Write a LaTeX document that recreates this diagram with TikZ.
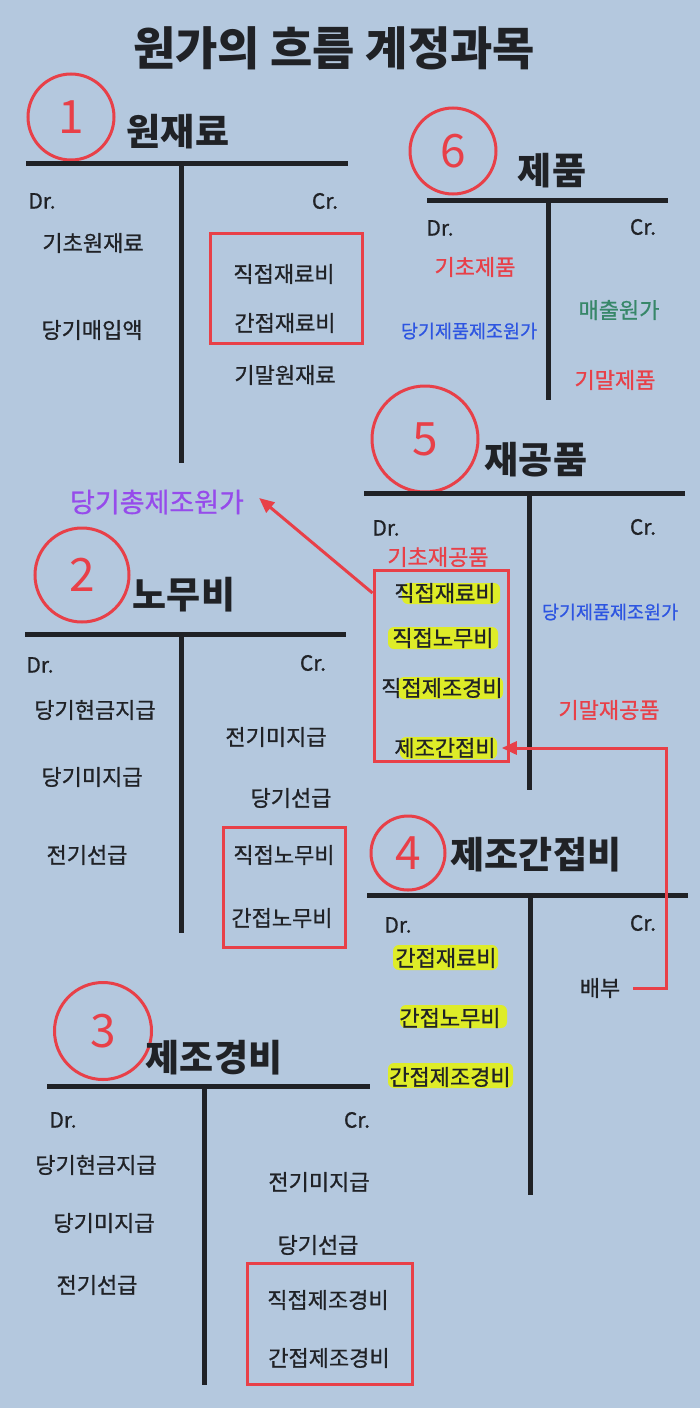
\documentclass[tikz,border=0pt]{standalone}
\usepackage{fontspec}
\setmainfont{Noto Sans CJK KR}
\newfontfamily\medfont{Noto Sans CJK KR}[FakeBold=0.8]
\usetikzlibrary{arrows.meta}

\definecolor{bgblue}{RGB}{180,200,222}
\definecolor{penred}{RGB}{232,64,72}
\definecolor{inkblack}{RGB}{32,34,38}
\definecolor{costblue}{RGB}{45,85,225}
\definecolor{salesgreen}{RGB}{55,135,105}
\definecolor{totalpurple}{RGB}{150,75,235}
\definecolor{marker}{RGB}{222,236,40}

\begin{document}
\begin{tikzpicture}[x=1pt, y=-1pt,
    every node/.style={inner sep=0pt, text=inkblack},
    entry/.style={font=\medfont\fontsize{22}{22}\selectfont},
    smallentry/.style={font=\medfont\fontsize{18.5}{18.5}\selectfont},
    drcr/.style={font=\medfont\fontsize{21}{21}\selectfont},
    acct/.style={font=\bfseries\fontsize{37}{37}\selectfont},
    tline/.style={line width=5pt, inkblack},
    numcirc/.style={draw=penred, line width=3pt, circle, minimum size=#1, text=penred, font=\fontsize{46}{46}\selectfont},
    numcirc/.default=86pt,
    redbox/.style={draw=penred, line width=3pt, rectangle},
    redarrow/.style={draw=penred, line width=3pt, -{Triangle[length=15pt,width=13pt]}},
]
    \useasboundingbox (0,0) rectangle (700,1408);
    \fill [bgblue] (0,0) rectangle (700,1408);
    % marker strokes under the highlighted items
    \foreach \xa/\ya/\xb/\yb in {402/583/500/604, 388/627/498/649, 398/677/503/699, 400/737/497/759,
                                 393/945/498/970, 400/1005/507/1028, 388/1063/513/1088} {
        \fill [marker, rounded corners=6pt] (\xa,\ya) rectangle (\xb,\yb);
    }

    \node[font=\bfseries\fontsize{46}{46}\selectfont] (title) at (334,48) {원가의 흐름 계정과목};

    % 1 원재료
    \node[numcirc] (c1) at (71,117) {1};
    \node[acct] (t1) at (178,132) {원재료};
    \draw [tline] (26,163) -- (348,163);
    \draw [tline] (181,163) -- (181,463);
    \node[drcr] (dr1) at (42,201) {Dr.};
    \node[drcr] (cr1) at (325,201) {Cr.};
    \node[entry] (a1) at (93,243) {기초원재료};
    \node[entry] (a2) at (92,330) {당기매입액};
    \node[entry] (a3) at (284,274) {직접재료비};
    \node[entry] (a4) at (285,323) {간접재료비};
    \node[entry] (a5) at (285,375) {기말원재료};
    \node[redbox, minimum width=152pt, minimum height=110pt] (box1) at (286,288) {};

    % 6 제품
    \node[numcirc] (c6) at (453,151) {6};
    \node[acct] (t6) at (552,171) {제품};
    \draw [tline] (427,200) -- (668,200);
    \draw [tline] (548,200) -- (548,400);
    \node[drcr] (dr6) at (440,228) {Dr.};
    \node[drcr] (cr6) at (643,227) {Cr.};
    \node[entry, text=penred] (f1) at (475,267) {기초제품};
    \node[smallentry, text=costblue] (f2) at (469,331) {당기제품제조원가};
    \node[entry, text=salesgreen] (f3) at (619,310) {매출원가};
    \node[entry, text=penred] (f4) at (615,380) {기말제품};

    % 5 재공품
    \node[numcirc=106pt] (c5) at (425,439) {5};
    \node[acct] (t5) at (536,460) {재공품};
    \draw [tline] (364,493) -- (685,493);
    \draw [tline] (529,493) -- (529,790);
    \node[drcr] (dr5) at (386,528) {Dr.};
    \node[drcr] (cr5) at (643,527) {Cr.};
    \node[entry, text=penred] (w0) at (438,557) {기초재공품};
    \node[entry] (w1) at (445,593) {직접재료비};
    \node[entry] (w2) at (443,638) {직접노무비};
    \node[entry] (w3) at (442,688) {직접제조경비};
    \node[entry] (w4) at (445,748) {제조간접비};
    \node[redbox, minimum width=134pt, minimum height=191pt] (box5) at (441,666) {};
    \node[smallentry, text=costblue] (w5) at (610,612) {당기제품제조원가};
    \node[entry, text=penred] (w6) at (609,710) {기말재공품};

    \node[font=\medfont\fontsize{27}{27}\selectfont, text=totalpurple] (total) at (157,502) {당기총제조원가};

    % 2 노무비
    \node[numcirc=94pt] (c2) at (82,575) {2};
    \node[acct] (t2) at (184,595) {노무비};
    \draw [tline] (25,634) -- (346,634);
    \draw [tline] (181,634) -- (181,933);
    \node[drcr] (dr2) at (40,665) {Dr.};
    \node[drcr] (cr2) at (313,663) {Cr.};
    \node[entry] (l1) at (95,710) {당기현금지급};
    \node[entry] (l2) at (92,777) {당기미지급};
    \node[entry] (l3) at (87,855) {전기선급};
    \node[entry] (l4) at (276,737) {전기미지급};
    \node[entry] (l5) at (291,798) {당기선급};
    \node[entry] (l6) at (284,855) {직접노무비};
    \node[entry] (l7) at (282,918) {간접노무비};
    \node[redbox, minimum width=122pt, minimum height=120pt] (box2) at (284,887) {};

    % 4 제조간접비
    \node[numcirc=74pt] (c4) at (408,853) {4};
    \node[acct] (t4) at (536,855) {제조간접비};
    \draw [tline] (367,895) -- (688,895);
    \draw [tline] (530,895) -- (530,1195);
    \node[drcr] (dr4) at (398,925) {Dr.};
    \node[drcr] (cr4) at (643,923) {Cr.};
    \node[entry] (o1) at (446,958) {간접재료비};
    \node[entry] (o2) at (450,1018) {간접노무비};
    \node[entry] (o3) at (450,1077) {간접제조경비};
    \node[entry] (o4) at (600,988) {배부};

    % 3 제조경비
    \node[numcirc=97pt] (c3) at (103,1031) {3};
    \node[acct] (t3) at (214,1058) {제조경비};
    \draw [tline] (47,1086) -- (370,1086);
    \draw [tline] (204,1086) -- (204,1385);
    \node[drcr] (dr3) at (63,1120) {Dr.};
    \node[drcr] (cr3) at (357,1120) {Cr.};
    \node[entry] (e1) at (96,1165) {당기현금지급};
    \node[entry] (e2) at (104,1223) {당기미지급};
    \node[entry] (e3) at (97,1285) {전기선급};
    \node[entry] (e4) at (319,1182) {전기미지급};
    \node[entry] (e5) at (318,1245) {당기선급};
    \node[entry] (e6) at (328,1300) {직접제조경비};
    \node[entry] (e7) at (329,1358) {간접제조경비};
    \node[redbox, minimum width=165pt, minimum height=121pt] (box3) at (330,1324) {};

    % arrows
    \draw [redarrow] (box5.west |- w1) -- ([xshift=15pt,yshift=4pt]total.east);
    \draw [redarrow] ([xshift=13pt]o4.east) -- ++(33,0) |- ([xshift=6pt]w4.east);
\end{tikzpicture}
\end{document}
